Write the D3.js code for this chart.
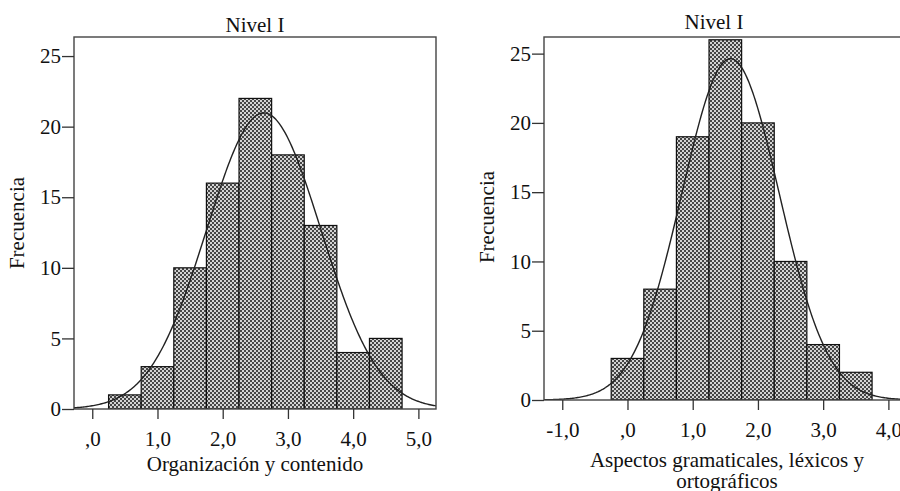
<!DOCTYPE html>
<html>
<head>
<meta charset="utf-8">
<script src="https://cdn.jsdelivr.net/npm/d3@7"></script>
<style>
  body { margin: 0; background: #fff; }
  svg { display: block; font-family: "Liberation Serif", "DejaVu Serif", serif; }
</style>
</head>
<body>
<div id="chart"></div>
<script>
// Data.
// Left panel: Organización y contenido
const leftBinStarts = [0.25, 0.75, 1.25, 1.75, 2.25, 2.75, 3.25, 3.75, 4.25];
const leftCounts = [1, 3, 10, 16, 22, 18, 13, 4, 5];
const leftTicks = [0, 1, 2, 3, 4, 5];
const leftTickLabels = [",0", "1,0", "2,0", "3,0", "4,0", "5,0"];
const leftNormal = { mean: 2.63, sd: 0.875 };

// Right panel: Aspectos gramaticales, léxicos y ortográficos
const rightBinStarts = [-0.25, 0.25, 0.75, 1.25, 1.75, 2.25, 2.75, 3.25];
const rightCounts = [3, 8, 19, 26, 20, 10, 4, 2];
const rightTicks = [-1, 0, 1, 2, 3, 4];
const rightTickLabels = ["-1,0", ",0", "1,0", "2,0", "3,0", "4,0"];
const rightNormal = { mean: 1.58, sd: 0.745 };

const yTicks = [0, 5, 10, 15, 20, 25];
const binWidth = 0.5;

const width = 900;
const height = 491;
const fontSize = 21;

const svg = d3.select("#chart")
  .append("svg")
  .attr("width", width)
  .attr("height", height);

// SPSS-like dotted cross hatch fill.
const defs = svg.append("defs");
const pat = defs.append("pattern")
  .attr("id", "hatch")
  .attr("patternUnits", "userSpaceOnUse")
  .attr("width", 4)
  .attr("height", 4);
pat.append("rect").attr("width", 4).attr("height", 4).attr("fill", "#6e6e6e");
[[1, 1], [3, 3]].forEach(([cx, cy]) =>
  pat.append("circle").attr("cx", cx).attr("cy", cy).attr("r", 0.95).attr("fill", "#fff"));
[[3, 1], [1, 3]].forEach(([cx, cy]) =>
  pat.append("circle").attr("cx", cx).attr("cy", cy).attr("r", 0.8).attr("fill", "#111"));

function drawPanel(cfg) {
  const x = d3.scaleLinear().domain(cfg.xDomain).range([cfg.left, cfg.left + cfg.w]);
  const y = d3.scaleLinear().domain(cfg.yDomain).range([cfg.bottom, cfg.top]);

  const g = svg.append("g");

  // clip to the frame so the curve does not spill out
  const clipId = "clip" + cfg.id;
  defs.append("clipPath").attr("id", clipId)
    .append("rect")
    .attr("x", cfg.left).attr("y", cfg.top)
    .attr("width", cfg.w).attr("height", cfg.bottom - cfg.top);

  const bins = cfg.starts.map((s, i) => ({ x0: s, x1: s + binWidth, n: cfg.counts[i] }));

  g.append("g").attr("clip-path", `url(#${clipId})`)
    .selectAll("rect")
    .data(bins)
    .enter()
    .append("rect")
    .attr("x", (d) => x(d.x0))
    .attr("y", (d) => y(d.n))
    .attr("width", (d) => x(d.x1) - x(d.x0))
    .attr("height", (d) => y(0) - y(d.n))
    .attr("fill", "url(#hatch)")
    .attr("stroke", "#111")
    .attr("stroke-width", 1.2);

  // fitted normal curve
  const total = d3.sum(cfg.counts);
  const dens = (v) => total * binWidth / (cfg.normal.sd * Math.sqrt(2 * Math.PI)) *
    Math.exp(-0.5 * Math.pow((v - cfg.normal.mean) / cfg.normal.sd, 2));
  const xs = d3.range(0, 301).map((i) => cfg.xDomain[0] + (cfg.xDomain[1] - cfg.xDomain[0]) * i / 300);
  g.append("path")
    .attr("clip-path", `url(#${clipId})`)
    .datum(xs)
    .attr("fill", "none")
    .attr("stroke", "#222")
    .attr("stroke-width", 1.4)
    .attr("d", d3.line().x((v) => x(v)).y((v) => y(dens(v))));

  // frame
  g.append("rect")
    .attr("x", cfg.left).attr("y", cfg.top)
    .attr("width", cfg.w).attr("height", cfg.bottom - cfg.top)
    .attr("fill", "none")
    .attr("stroke", "#444")
    .attr("stroke-width", 1.4);

  // y axis
  const yAxis = g.append("g")
    .attr("transform", `translate(${cfg.left},0)`)
    .call(d3.axisLeft(y).tickValues(yTicks).tickSize(12).tickPadding(1).tickSizeOuter(0));
  yAxis.select(".domain").remove();
  yAxis.selectAll("line").attr("stroke", "#333").attr("stroke-width", 1.3);
  yAxis.selectAll("text").attr("font-size", fontSize).attr("fill", "#111")
    .attr("font-family", "Liberation Serif");

  // x axis
  const xAxis = g.append("g")
    .attr("transform", `translate(0,${cfg.bottom})`)
    .call(d3.axisBottom(x).tickValues(cfg.ticks)
      .tickFormat((d, i) => cfg.tickLabels[i])
      .tickSize(10).tickPadding(12).tickSizeOuter(0));
  xAxis.select(".domain").remove();
  xAxis.selectAll("line").attr("stroke", "#333").attr("stroke-width", 1.3);
  xAxis.selectAll("text").attr("font-size", fontSize).attr("fill", "#111")
    .attr("font-family", "Liberation Serif");

  // title
  g.append("text")
    .attr("x", cfg.titleX).attr("y", cfg.titleY)
    .attr("text-anchor", "middle")
    .attr("font-size", fontSize)
    .attr("fill", "#111")
    .text("Nivel I");

  // y label
  g.append("text")
    .attr("transform", `translate(${cfg.yLabelX},${cfg.yLabelY})rotate(-90)`)
    .attr("text-anchor", "middle")
    .attr("font-size", fontSize)
    .attr("fill", "#111")
    .text("Frecuencia");

  // x label
  cfg.xLabel.forEach((line, i) => {
    g.append("text")
      .attr("x", cfg.xLabelX).attr("y", cfg.xLabelY + i * 21)
      .attr("text-anchor", "middle")
      .attr("font-size", fontSize)
      .attr("fill", "#111")
      .text(line);
  });
}

drawPanel({
  id: "L", left: 74, w: 362, top: 37, bottom: 409,
  xDomain: [-0.28, 5.27], yDomain: [0, 26.35],
  starts: leftBinStarts, counts: leftCounts,
  ticks: leftTicks, tickLabels: leftTickLabels, normal: leftNormal,
  titleX: 255, titleY: 32, yLabelX: 24, yLabelY: 223,
  xLabel: ["Organización y contenido"], xLabelX: 255, xLabelY: 471
});

drawPanel({
  id: "R", left: 544, w: 362, top: 37, bottom: 400,
  xDomain: [-1.28, 4.27], yDomain: [0, 26.2],
  starts: rightBinStarts, counts: rightCounts,
  ticks: rightTicks, tickLabels: rightTickLabels, normal: rightNormal,
  titleX: 714, titleY: 29, yLabelX: 494, yLabelY: 217,
  xLabel: ["Aspectos gramaticales, léxicos y", "ortográficos"], xLabelX: 727, xLabelY: 467
});
</script>
</body>
</html>
